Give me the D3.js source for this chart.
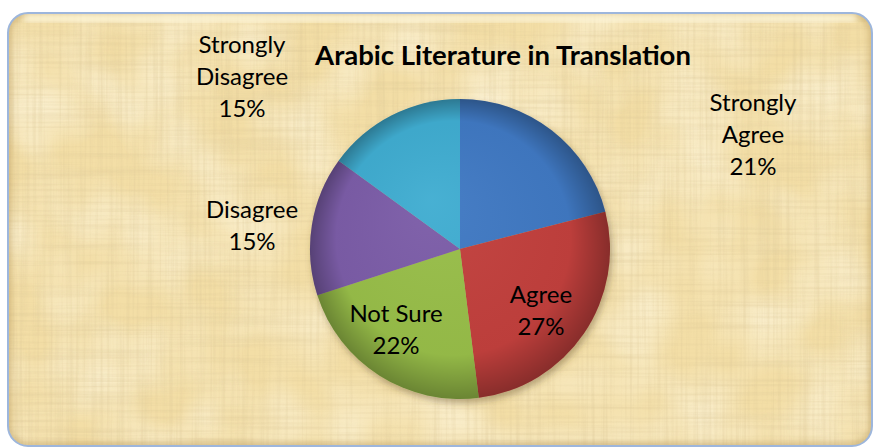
<!DOCTYPE html>
<html>
<head>
<meta charset="utf-8">
<script src="https://cdn.jsdelivr.net/npm/d3@7"></script>
<style>
  body { margin: 0; background: #fff; }
  svg { display: block; }
</style>
</head>
<body>
<script>
const width = 874;
const height = 448;

// data
const categories = ["Strongly Agree", "Agree", "Not Sure", "Disagree", "Strongly Disagree"];
const percents = [21, 27, 22, 15, 15];
const sliceColors = ["#4179C3", "#C2403C", "#98BE4A", "#7C5DA8", "#3FADD1"];
const chartTitle = "Arabic Literature in Translation";

const svg = d3.select("body")
    .append("svg")
    .attr("width", width)
    .attr("height", height);

const defs = svg.append("defs");

// papyrus fibres, one layer running each way
function fibreFilter(id, freq, seed) {
    const f = defs.append("filter").attr("id", id)
        .attr("x", 0).attr("y", 0).attr("width", 1).attr("height", 1);
    f.append("feTurbulence")
        .attr("type", "fractalNoise")
        .attr("baseFrequency", freq)
        .attr("numOctaves", 3)
        .attr("seed", seed);
    f.append("feColorMatrix")
        .attr("type", "matrix")
        .attr("values", "0 0 0 0 0.70  0 0 0 0 0.56  0 0 0 0 0.30  2.4 0 0 0 -1.05");
}
fibreFilter("fibH", "0.006 0.3", 4);
fibreFilter("fibV", "0.3 0.006", 9);

const light = defs.append("filter").attr("id", "patches")
    .attr("x", 0).attr("y", 0).attr("width", 1).attr("height", 1);
light.append("feTurbulence")
    .attr("type", "fractalNoise")
    .attr("baseFrequency", "0.015")
    .attr("numOctaves", 2)
    .attr("seed", 2);
light.append("feColorMatrix")
    .attr("type", "matrix")
    .attr("values", "0 0 0 0 1  0 0 0 0 0.97  0 0 0 0 0.85  1.6 0 0 0 -0.5");

const shadow = defs.append("filter").attr("id", "pieShadow")
    .attr("x", -0.2).attr("y", -0.2).attr("width", 1.4).attr("height", 1.4);
shadow.append("feDropShadow")
    .attr("dx", 2).attr("dy", 4)
    .attr("stdDeviation", 3.5)
    .attr("flood-color", "#5a4620")
    .attr("flood-opacity", 0.4);

const inner = defs.append("filter").attr("id", "edgeBlur");
inner.append("feGaussianBlur").attr("stdDeviation", 3);

defs.append("clipPath").attr("id", "boxClip")
    .append("rect")
    .attr("x", 8).attr("y", 13)
    .attr("width", 864).attr("height", 433)
    .attr("rx", 20);

// background panel
const panel = svg.append("g").attr("clip-path", "url(#boxClip)");
panel.append("rect")
    .attr("x", 0).attr("y", 0)
    .attr("width", width).attr("height", height)
    .attr("fill", "#f3dea6");
panel.append("rect")
    .attr("x", 0).attr("y", 0)
    .attr("width", width).attr("height", height)
    .attr("filter", "url(#patches)")
    .style("opacity", 0.6);
panel.append("rect")
    .attr("x", 0).attr("y", 0)
    .attr("width", width).attr("height", height)
    .attr("filter", "url(#fibH)")
    .style("opacity", 0.3);
panel.append("rect")
    .attr("x", 0).attr("y", 0)
    .attr("width", width).attr("height", height)
    .attr("filter", "url(#fibV)")
    .style("opacity", 0.3);
// bevel: light top, darker left / bottom
panel.append("rect")
    .attr("x", 8).attr("y", 13)
    .attr("width", 864).attr("height", 433)
    .attr("rx", 20)
    .attr("fill", "none")
    .attr("stroke", "#b8985a")
    .attr("stroke-width", 6)
    .attr("filter", "url(#edgeBlur)")
    .style("opacity", 0.6);
panel.append("rect")
    .attr("x", 24).attr("y", 14)
    .attr("width", 832).attr("height", 8)
    .attr("fill", "#fff8dc")
    .attr("filter", "url(#edgeBlur)")
    .style("opacity", 0.9);

svg.append("rect")
    .attr("x", 8).attr("y", 13)
    .attr("width", 864).attr("height", 433)
    .attr("rx", 20)
    .attr("fill", "none")
    .attr("stroke", "#9db6dc")
    .attr("stroke-width", 2);

// pie
const cx = 460, cy = 249, radius = 150;
const pie = d3.pie().sort(null).value(d => d);
const arc = d3.arc().innerRadius(0).outerRadius(radius);
const slices = pie(percents);

const shade = defs.append("radialGradient")
    .attr("id", "shade")
    .attr("gradientUnits", "userSpaceOnUse")
    .attr("cx", 0).attr("cy", 0).attr("r", radius)
    .attr("fx", -30).attr("fy", -50);
shade.append("stop").attr("offset", 0).attr("stop-color", "#fff").attr("stop-opacity", 0.04);
shade.append("stop").attr("offset", 0.78).attr("stop-color", "#000").attr("stop-opacity", 0.03);
shade.append("stop").attr("offset", 1).attr("stop-color", "#000").attr("stop-opacity", 0.3);

const pieG = svg.append("g").attr("transform", `translate(${cx},${cy})`);
pieG.append("g")
    .attr("filter", "url(#pieShadow)")
    .selectAll("path")
    .data(slices)
    .join("path")
    .attr("d", arc)
    .attr("fill", (d, i) => sliceColors[i]);
pieG.append("g")
    .selectAll("path")
    .data(slices)
    .join("path")
    .attr("d", arc)
    .attr("fill", "url(#shade)");

// labels: inside ones sit on the centroid, outside ones pushed out
const labelArc = d3.arc().innerRadius(101).outerRadius(101);
const nudge = {
    "Strongly Agree": [293, -116],
    "Disagree": [-208, -25],
    "Strongly Disagree": [-218, -174],
    "Not Sure": [-64, 79],
    "Agree": [81, 60]
};
const lineH = 32;
const labels = svg.append("g")
    .attr("transform", `translate(${cx},${cy})`)
    .style("font-family", "Lato, 'Open Sans', sans-serif")
    .style("font-size", "24px")
    .style("fill", "#000");

slices.forEach((s, i) => {
    const name = categories[i];
    const pos = nudge[name] || labelArc.centroid(s);
    const words = name.split(" ");
    const lines = (name === "Not Sure" ? [name] : words).concat([percents[i] + "%"]);
    const t = labels.append("text")
        .attr("text-anchor", "middle")
        .attr("dominant-baseline", "central");
    lines.forEach((ln, k) => {
        t.append("tspan")
            .attr("x", pos[0])
            .attr("y", pos[1] + (k - (lines.length - 1) / 2) * lineH)
            .text(ln);
    });
});

svg.append("text")
    .attr("x", 503)
    .attr("y", 65)
    .attr("text-anchor", "middle")
    .style("font-family", "Lato, 'Open Sans', sans-serif")
    .style("font-weight", "bold")
    .style("font-size", "27.5px")
    .text(chartTitle);
</script>
</body>
</html>
